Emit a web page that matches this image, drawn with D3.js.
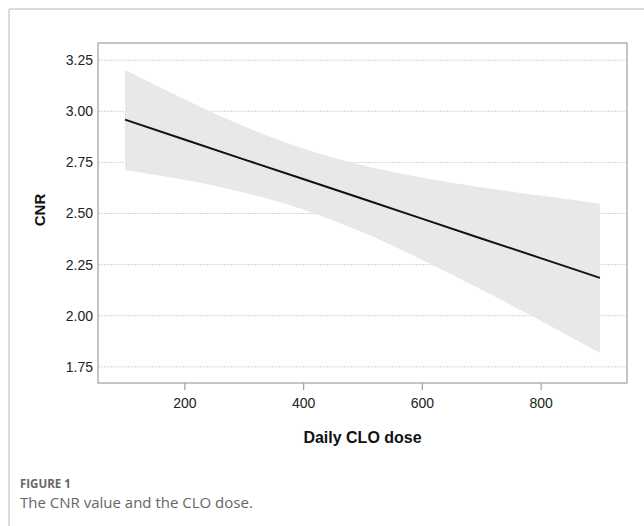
<!DOCTYPE html>
<html>
<head>
<meta charset="utf-8">
<script src="https://cdn.jsdelivr.net/npm/d3@7"></script>
<style>
  body { margin: 0; background: #fff; }
  svg { display: block; }
</style>
</head>
<body>
<svg id="chart" width="644" height="526"></svg>
<script>
// values
const doses = [100, 200, 300, 400, 500, 600, 700, 800, 900];
const fitted = [2.959, 2.862, 2.765, 2.669, 2.572, 2.475, 2.378, 2.282, 2.185];
const lower = [2.713, 2.665, 2.603, 2.520, 2.408, 2.274, 2.128, 1.976, 1.818];
const upper = [3.202, 3.059, 2.927, 2.818, 2.736, 2.676, 2.628, 2.588, 2.548];
const yTicks = [1.75, 2.0, 2.25, 2.5, 2.75, 3.0, 3.25];
const xTicks = [200, 400, 600, 800];

const svg = d3.select("#chart");
const box = { left: 98, right: 627, top: 43, bottom: 383 };

const x = d3.scaleLinear().domain([54.5, 945.5]).range([box.left, box.right]);
const y = d3.scaleLinear().domain([1.671, 3.334]).range([box.bottom, box.top]);

// outer frame (top and left rules)
svg.append("line").attr("x1", 9).attr("x2", 644).attr("y1", 9).attr("y2", 9)
  .attr("stroke", "#cfcfcf").attr("stroke-width", 1.5);
svg.append("line").attr("x1", 9).attr("x2", 9).attr("y1", 9).attr("y2", 526)
  .attr("stroke", "#cfcfcf").attr("stroke-width", 1.5);

// horizontal grid
svg.append("g")
  .selectAll("line")
  .data(yTicks)
  .join("line")
  .attr("x1", box.left).attr("x2", box.right)
  .attr("y1", d => y(d)).attr("y2", d => y(d))
  .attr("stroke", "#d4d4d4")
  .attr("stroke-dasharray", "2,1");

const pts = doses.map((d, i) => ({ x: d, f: fitted[i], lo: lower[i], hi: upper[i] }));

// confidence band
const band = d3.area()
  .x(d => x(d.x))
  .y0(d => y(d.lo))
  .y1(d => y(d.hi))
  .curve(d3.curveMonotoneX);
svg.append("path").datum(pts).attr("d", band).attr("fill", "#e8e8e8");

// fitted line
const line = d3.line().x(d => x(d.x)).y(d => y(d.f));
svg.append("path").datum(pts).attr("d", line)
  .attr("fill", "none").attr("stroke", "#111").attr("stroke-width", 2);

// panel border
svg.append("rect")
  .attr("x", box.left).attr("y", box.top)
  .attr("width", box.right - box.left).attr("height", box.bottom - box.top)
  .attr("fill", "none").attr("stroke", "#a0a0a0").attr("stroke-width", 1.2);

// x axis
const xAxis = svg.append("g")
  .attr("transform", `translate(0,${box.bottom})`)
  .call(d3.axisBottom(x).tickValues(xTicks).tickSize(7).tickPadding(8).tickFormat(d3.format("d")));
xAxis.select(".domain").remove();
xAxis.selectAll(".tick line").attr("stroke", "#a0a0a0").attr("stroke-width", 1.2);
xAxis.selectAll("text").attr("font-family", "Liberation Sans, Arial, sans-serif")
  .attr("font-size", 14).attr("fill", "#222");

// y axis
const yAxis = svg.append("g")
  .attr("transform", `translate(${box.left},0)`)
  .call(d3.axisLeft(y).tickValues(yTicks).tickSize(0).tickPadding(5).tickFormat(d3.format(".2f")));
yAxis.select(".domain").remove();
yAxis.selectAll("text").attr("font-family", "Liberation Sans, Arial, sans-serif")
  .attr("font-size", 14).attr("fill", "#222");

// axis titles
svg.append("text")
  .attr("x", (box.left + box.right) / 2).attr("y", 443)
  .attr("text-anchor", "middle")
  .attr("font-family", "Liberation Sans, Arial, sans-serif")
  .attr("font-weight", "bold").attr("font-size", 16).attr("fill", "#111")
  .text("Daily CLO dose");

svg.append("text")
  .attr("transform", "translate(45,210) rotate(-90)")
  .attr("text-anchor", "middle")
  .attr("font-family", "Liberation Sans, Arial, sans-serif")
  .attr("font-weight", "bold").attr("font-size", 15).attr("fill", "#111")
  .text("CNR");

// caption
svg.append("text")
  .attr("x", 20).attr("y", 488)
  .attr("font-family", "Open Sans, sans-serif")
  .attr("font-weight", "bold").attr("font-size", 11.5).attr("fill", "#666")
  .text("FIGURE 1");
svg.append("text")
  .attr("x", 20).attr("y", 508)
  .attr("font-family", "Open Sans, sans-serif")
  .attr("font-size", 15).attr("fill", "#666")
  .text("The CNR value and the CLO dose.");
</script>
</body>
</html>
